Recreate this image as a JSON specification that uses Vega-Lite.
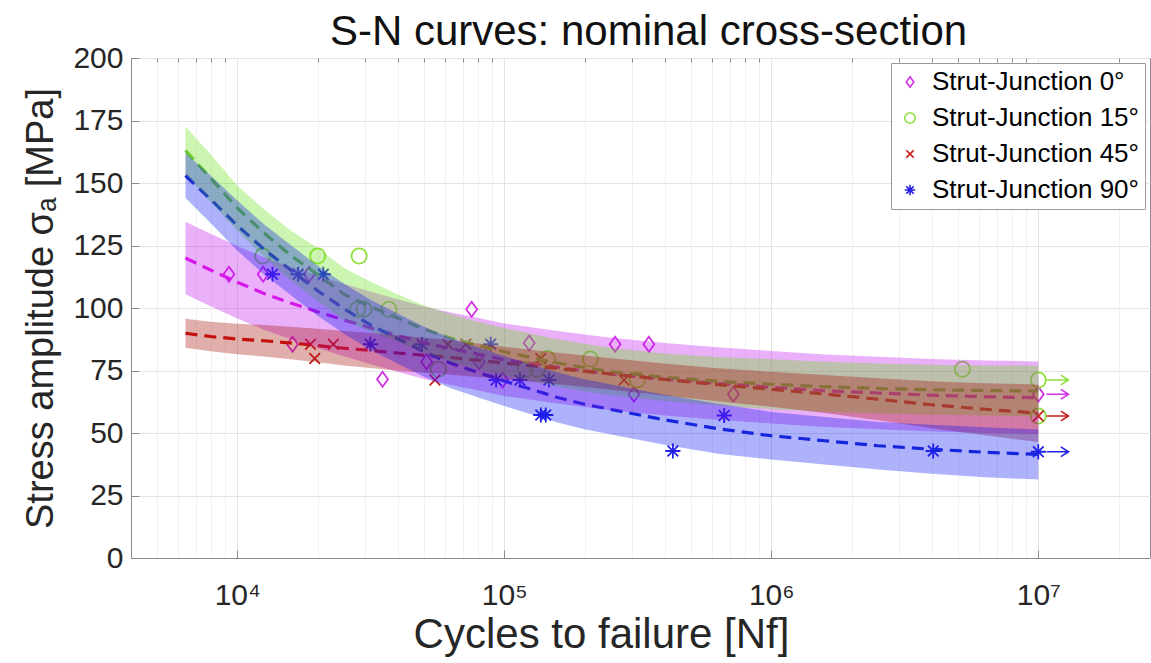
{
  "$schema": "https://vega.github.io/schema/vega-lite/v6.json",
  "width": 1019,
  "height": 500,
  "autosize": {"type": "none"},
  "padding": {"left": 131, "top": 58, "right": 1, "bottom": 105},
  "background": "white",
  "title": {"text": "S-N curves: nominal cross-section", "fontSize": 42, "fontWeight": "normal", "font": "Liberation Sans", "color": "#111111", "anchor": "middle", "frame": "group", "dx": 8, "dy": 23, "offset": 12},
  "config": {
    "view": {"stroke": "#8c8c8c", "strokeWidth": 1},
    "font": "Liberation Sans",
    "axis": {"labelFont": "Liberation Sans", "titleFont": "Liberation Sans", "labelColor": "#262626", "titleColor": "#262626", "titleFontWeight": "normal", "domainColor": "#8c8c8c", "tickColor": "#8c8c8c"}
  },
  "datasets": {
    "points": [
      {"series": "Strut-Junction 0°", "N": 9310, "S": 113.5},
      {"series": "Strut-Junction 0°", "N": 12500, "S": 113.5},
      {"series": "Strut-Junction 0°", "N": 16100, "S": 85.5},
      {"series": "Strut-Junction 0°", "N": 18600, "S": 113.5},
      {"series": "Strut-Junction 0°", "N": 35000, "S": 71.5},
      {"series": "Strut-Junction 0°", "N": 51200, "S": 78.5},
      {"series": "Strut-Junction 0°", "N": 75500, "S": 99.5},
      {"series": "Strut-Junction 0°", "N": 80500, "S": 78.5},
      {"series": "Strut-Junction 0°", "N": 98500, "S": 71.2},
      {"series": "Strut-Junction 0°", "N": 124000, "S": 86},
      {"series": "Strut-Junction 0°", "N": 260000, "S": 85.5},
      {"series": "Strut-Junction 0°", "N": 306000, "S": 65.5},
      {"series": "Strut-Junction 0°", "N": 348000, "S": 85.5},
      {"series": "Strut-Junction 0°", "N": 721000, "S": 65.5},
      {"series": "Strut-Junction 0°", "N": 10000000, "S": 65.5},
      {"series": "Strut-Junction 15°", "N": 12450, "S": 120.8},
      {"series": "Strut-Junction 15°", "N": 20000, "S": 120.8},
      {"series": "Strut-Junction 15°", "N": 28600, "S": 120.8},
      {"series": "Strut-Junction 15°", "N": 28200, "S": 99.5},
      {"series": "Strut-Junction 15°", "N": 29800, "S": 99.5},
      {"series": "Strut-Junction 15°", "N": 37000, "S": 99.5},
      {"series": "Strut-Junction 15°", "N": 56700, "S": 75.5},
      {"series": "Strut-Junction 15°", "N": 120000, "S": 75.5},
      {"series": "Strut-Junction 15°", "N": 133000, "S": 75.5},
      {"series": "Strut-Junction 15°", "N": 145000, "S": 79.8},
      {"series": "Strut-Junction 15°", "N": 210000, "S": 79.6},
      {"series": "Strut-Junction 15°", "N": 315000, "S": 71.2},
      {"series": "Strut-Junction 15°", "N": 5200000, "S": 75.5},
      {"series": "Strut-Junction 15°", "N": 10000000, "S": 71.2},
      {"series": "Strut-Junction 15°", "N": 10000000, "S": 56.8},
      {"series": "Strut-Junction 45°", "N": 18800, "S": 85.5},
      {"series": "Strut-Junction 45°", "N": 19500, "S": 79.8},
      {"series": "Strut-Junction 45°", "N": 22900, "S": 85.5},
      {"series": "Strut-Junction 45°", "N": 55000, "S": 71.2},
      {"series": "Strut-Junction 45°", "N": 61500, "S": 85.5},
      {"series": "Strut-Junction 45°", "N": 71800, "S": 85.5},
      {"series": "Strut-Junction 45°", "N": 137000, "S": 79.8},
      {"series": "Strut-Junction 45°", "N": 281000, "S": 71.2},
      {"series": "Strut-Junction 45°", "N": 10000000, "S": 56.8},
      {"series": "Strut-Junction 90°", "N": 13550, "S": 113.5},
      {"series": "Strut-Junction 90°", "N": 16900, "S": 113.5},
      {"series": "Strut-Junction 90°", "N": 21000, "S": 113.5},
      {"series": "Strut-Junction 90°", "N": 31500, "S": 85.5},
      {"series": "Strut-Junction 90°", "N": 49200, "S": 85.5},
      {"series": "Strut-Junction 90°", "N": 88900, "S": 85.5},
      {"series": "Strut-Junction 90°", "N": 93200, "S": 71.2},
      {"series": "Strut-Junction 90°", "N": 114500, "S": 71.2},
      {"series": "Strut-Junction 90°", "N": 137000, "S": 57.2},
      {"series": "Strut-Junction 90°", "N": 143000, "S": 57.2},
      {"series": "Strut-Junction 90°", "N": 147000, "S": 71.2},
      {"series": "Strut-Junction 90°", "N": 428000, "S": 42.8},
      {"series": "Strut-Junction 90°", "N": 666000, "S": 57},
      {"series": "Strut-Junction 90°", "N": 4040000, "S": 42.8},
      {"series": "Strut-Junction 90°", "N": 10000000, "S": 42.5}
    ],
    "runouts": [
      {"series": "Strut-Junction 15°", "N": 11800000, "S": 71.2},
      {"series": "Strut-Junction 0°", "N": 11800000, "S": 65.5},
      {"series": "Strut-Junction 45°", "N": 11800000, "S": 56.8},
      {"series": "Strut-Junction 90°", "N": 11800000, "S": 42.5}
    ],
    "curves": [
      {"series": "Strut-Junction 0°", "N": 6400, "S": 120, "lo": 105.5, "hi": 134.5},
      {"series": "Strut-Junction 0°", "N": 7943, "S": 115.2, "lo": 100.7, "hi": 129.7},
      {"series": "Strut-Junction 0°", "N": 10000, "S": 110.3, "lo": 95.8, "hi": 124.8},
      {"series": "Strut-Junction 0°", "N": 12589, "S": 105.8, "lo": 91.3, "hi": 120.3},
      {"series": "Strut-Junction 0°", "N": 15849, "S": 102, "lo": 87.5, "hi": 116.5},
      {"series": "Strut-Junction 0°", "N": 19953, "S": 98.5, "lo": 84, "hi": 113},
      {"series": "Strut-Junction 0°", "N": 25119, "S": 95.2, "lo": 80.7, "hi": 109.7},
      {"series": "Strut-Junction 0°", "N": 31623, "S": 92, "lo": 77.5, "hi": 106.5},
      {"series": "Strut-Junction 0°", "N": 39811, "S": 89, "lo": 74.5, "hi": 103.5},
      {"series": "Strut-Junction 0°", "N": 50119, "S": 86.1, "lo": 71.6, "hi": 100.6},
      {"series": "Strut-Junction 0°", "N": 63096, "S": 83.7, "lo": 69.2, "hi": 98.2},
      {"series": "Strut-Junction 0°", "N": 79433, "S": 81.6, "lo": 67.1, "hi": 96.1},
      {"series": "Strut-Junction 0°", "N": 100000, "S": 79.3, "lo": 64.8, "hi": 93.8},
      {"series": "Strut-Junction 0°", "N": 125893, "S": 77.8, "lo": 63.3, "hi": 92.3},
      {"series": "Strut-Junction 0°", "N": 158489, "S": 76.3, "lo": 61.8, "hi": 90.8},
      {"series": "Strut-Junction 0°", "N": 199526, "S": 74.9, "lo": 60.4, "hi": 89.4},
      {"series": "Strut-Junction 0°", "N": 251189, "S": 73.6, "lo": 59.1, "hi": 88.1},
      {"series": "Strut-Junction 0°", "N": 398107, "S": 71.5, "lo": 57, "hi": 86},
      {"series": "Strut-Junction 0°", "N": 630957, "S": 69.8, "lo": 55.3, "hi": 84.3},
      {"series": "Strut-Junction 0°", "N": 1000000, "S": 68.3, "lo": 53.8, "hi": 82.8},
      {"series": "Strut-Junction 0°", "N": 1584893, "S": 66.9, "lo": 52.4, "hi": 81.4},
      {"series": "Strut-Junction 0°", "N": 2511886, "S": 66, "lo": 51.5, "hi": 80.5},
      {"series": "Strut-Junction 0°", "N": 3981072, "S": 65.1, "lo": 50.6, "hi": 79.6},
      {"series": "Strut-Junction 0°", "N": 6309573, "S": 64.5, "lo": 50, "hi": 79},
      {"series": "Strut-Junction 0°", "N": 10000000, "S": 64.1, "lo": 49.6, "hi": 78.6},
      {"series": "Strut-Junction 15°", "N": 6400, "S": 163, "lo": 153.4, "hi": 172.6},
      {"series": "Strut-Junction 15°", "N": 7943, "S": 152, "lo": 142.5, "hi": 161.5},
      {"series": "Strut-Junction 15°", "N": 10000, "S": 140, "lo": 131, "hi": 149},
      {"series": "Strut-Junction 15°", "N": 12589, "S": 130, "lo": 120.5, "hi": 139.5},
      {"series": "Strut-Junction 15°", "N": 15849, "S": 121, "lo": 111, "hi": 131},
      {"series": "Strut-Junction 15°", "N": 19953, "S": 113.5, "lo": 103, "hi": 124},
      {"series": "Strut-Junction 15°", "N": 25119, "S": 105.5, "lo": 95, "hi": 116},
      {"series": "Strut-Junction 15°", "N": 31623, "S": 100.5, "lo": 90.5, "hi": 110.5},
      {"series": "Strut-Junction 15°", "N": 39811, "S": 96, "lo": 86.5, "hi": 105.5},
      {"series": "Strut-Junction 15°", "N": 50119, "S": 91.5, "lo": 82, "hi": 101},
      {"series": "Strut-Junction 15°", "N": 63096, "S": 88, "lo": 78.5, "hi": 97.5},
      {"series": "Strut-Junction 15°", "N": 79433, "S": 85, "lo": 75.5, "hi": 94.5},
      {"series": "Strut-Junction 15°", "N": 100000, "S": 82.5, "lo": 73, "hi": 92},
      {"series": "Strut-Junction 15°", "N": 125893, "S": 80.2, "lo": 70.7, "hi": 89.7},
      {"series": "Strut-Junction 15°", "N": 158489, "S": 78, "lo": 68.5, "hi": 87.5},
      {"series": "Strut-Junction 15°", "N": 199526, "S": 76.2, "lo": 66.7, "hi": 85.7},
      {"series": "Strut-Junction 15°", "N": 251189, "S": 74.5, "lo": 65, "hi": 84},
      {"series": "Strut-Junction 15°", "N": 398107, "S": 72.3, "lo": 62.8, "hi": 81.8},
      {"series": "Strut-Junction 15°", "N": 630957, "S": 70.7, "lo": 61, "hi": 80.4},
      {"series": "Strut-Junction 15°", "N": 1000000, "S": 69.5, "lo": 59.5, "hi": 79.5},
      {"series": "Strut-Junction 15°", "N": 1584893, "S": 68.5, "lo": 58.5, "hi": 78.5},
      {"series": "Strut-Junction 15°", "N": 2511886, "S": 67.8, "lo": 57.8, "hi": 77.8},
      {"series": "Strut-Junction 15°", "N": 3981072, "S": 67.3, "lo": 57.3, "hi": 77.3},
      {"series": "Strut-Junction 15°", "N": 6309573, "S": 67, "lo": 57, "hi": 77},
      {"series": "Strut-Junction 15°", "N": 10000000, "S": 66.8, "lo": 56.6, "hi": 77},
      {"series": "Strut-Junction 45°", "N": 6400, "S": 89.9, "lo": 84.1, "hi": 95.7},
      {"series": "Strut-Junction 45°", "N": 7943, "S": 88.6, "lo": 82.7, "hi": 94.5},
      {"series": "Strut-Junction 45°", "N": 10000, "S": 87.6, "lo": 81.5, "hi": 93.7},
      {"series": "Strut-Junction 45°", "N": 12589, "S": 86.9, "lo": 80.6, "hi": 93.2},
      {"series": "Strut-Junction 45°", "N": 15849, "S": 86, "lo": 79.5, "hi": 92.5},
      {"series": "Strut-Junction 45°", "N": 19953, "S": 85, "lo": 78.3, "hi": 91.7},
      {"series": "Strut-Junction 45°", "N": 25119, "S": 83.9, "lo": 77, "hi": 90.8},
      {"series": "Strut-Junction 45°", "N": 31623, "S": 83, "lo": 76, "hi": 90},
      {"series": "Strut-Junction 45°", "N": 39811, "S": 82, "lo": 74.9, "hi": 89.1},
      {"series": "Strut-Junction 45°", "N": 50119, "S": 81.1, "lo": 74.1, "hi": 88.1},
      {"series": "Strut-Junction 45°", "N": 63096, "S": 80.2, "lo": 73.3, "hi": 87.1},
      {"series": "Strut-Junction 45°", "N": 79433, "S": 79.1, "lo": 72.4, "hi": 85.8},
      {"series": "Strut-Junction 45°", "N": 100000, "S": 78, "lo": 71.5, "hi": 84.5},
      {"series": "Strut-Junction 45°", "N": 125893, "S": 76.9, "lo": 70.5, "hi": 83.3},
      {"series": "Strut-Junction 45°", "N": 158489, "S": 75.8, "lo": 69.5, "hi": 82.1},
      {"series": "Strut-Junction 45°", "N": 199526, "S": 74.7, "lo": 68.4, "hi": 81},
      {"series": "Strut-Junction 45°", "N": 251189, "S": 73.6, "lo": 67.3, "hi": 79.9},
      {"series": "Strut-Junction 45°", "N": 398107, "S": 71.4, "lo": 65, "hi": 77.8},
      {"series": "Strut-Junction 45°", "N": 630957, "S": 69.3, "lo": 62.7, "hi": 75.9},
      {"series": "Strut-Junction 45°", "N": 1000000, "S": 67.5, "lo": 60.5, "hi": 74.5},
      {"series": "Strut-Junction 45°", "N": 1584893, "S": 65.6, "lo": 58, "hi": 73.2},
      {"series": "Strut-Junction 45°", "N": 2511886, "S": 63.5, "lo": 55.1, "hi": 71.9},
      {"series": "Strut-Junction 45°", "N": 3981072, "S": 61.3, "lo": 51.9, "hi": 70.7},
      {"series": "Strut-Junction 45°", "N": 6309573, "S": 59.5, "lo": 49.1, "hi": 69.9},
      {"series": "Strut-Junction 45°", "N": 10000000, "S": 57.9, "lo": 46.4, "hi": 69.4},
      {"series": "Strut-Junction 90°", "N": 6400, "S": 153, "lo": 144, "hi": 162},
      {"series": "Strut-Junction 90°", "N": 7943, "S": 143.5, "lo": 134, "hi": 153},
      {"series": "Strut-Junction 90°", "N": 10000, "S": 133, "lo": 123, "hi": 143},
      {"series": "Strut-Junction 90°", "N": 12589, "S": 123.5, "lo": 113.5, "hi": 133.5},
      {"series": "Strut-Junction 90°", "N": 15849, "S": 115.2, "lo": 105.2, "hi": 125.2},
      {"series": "Strut-Junction 90°", "N": 19953, "S": 107, "lo": 97, "hi": 117},
      {"series": "Strut-Junction 90°", "N": 25119, "S": 99.7, "lo": 89.7, "hi": 109.7},
      {"series": "Strut-Junction 90°", "N": 31623, "S": 93.2, "lo": 83.2, "hi": 103.2},
      {"series": "Strut-Junction 90°", "N": 39811, "S": 87.8, "lo": 77.8, "hi": 97.8},
      {"series": "Strut-Junction 90°", "N": 50119, "S": 82.5, "lo": 72.5, "hi": 92.5},
      {"series": "Strut-Junction 90°", "N": 63096, "S": 77.9, "lo": 67.9, "hi": 87.9},
      {"series": "Strut-Junction 90°", "N": 79433, "S": 74.3, "lo": 64.3, "hi": 84.3},
      {"series": "Strut-Junction 90°", "N": 100000, "S": 70.8, "lo": 60.8, "hi": 80.8},
      {"series": "Strut-Junction 90°", "N": 125893, "S": 67.5, "lo": 57.5, "hi": 77.5},
      {"series": "Strut-Junction 90°", "N": 158489, "S": 64.2, "lo": 54.2, "hi": 74.2},
      {"series": "Strut-Junction 90°", "N": 199526, "S": 61.5, "lo": 51.5, "hi": 71.5},
      {"series": "Strut-Junction 90°", "N": 251189, "S": 59.4, "lo": 49.4, "hi": 69.4},
      {"series": "Strut-Junction 90°", "N": 398107, "S": 55.3, "lo": 45.3, "hi": 65.3},
      {"series": "Strut-Junction 90°", "N": 630957, "S": 51.7, "lo": 41.7, "hi": 61.7},
      {"series": "Strut-Junction 90°", "N": 1000000, "S": 48.9, "lo": 39.4, "hi": 58.4},
      {"series": "Strut-Junction 90°", "N": 1584893, "S": 46.9, "lo": 37.4, "hi": 56.4},
      {"series": "Strut-Junction 90°", "N": 2511886, "S": 44.9, "lo": 35.4, "hi": 54.4},
      {"series": "Strut-Junction 90°", "N": 3981072, "S": 43.5, "lo": 33.7, "hi": 53.3},
      {"series": "Strut-Junction 90°", "N": 6309573, "S": 42.3, "lo": 32.3, "hi": 52.3},
      {"series": "Strut-Junction 90°", "N": 10000000, "S": 41.4, "lo": 31.4, "hi": 51.4}
    ]
  },
  "resolve": {"axis": {"x": "independent"}},
  "layer": [
    {
      "data": {"name": "points"},
      "mark": {"type": "point", "filled": false, "strokeWidth": 1.8, "size": 230, "opacity": 1},
      "encoding": {
        "x": {"field": "N", "type": "quantitative", "scale": {"type": "log", "domain": [4000, 26200000], "nice": false},
          "axis": {"orient": "bottom", "values": [10000, 100000, 1000000, 10000000], "labelExpr": "datum.value == 10000 ? '10⁴' : datum.value == 100000 ? '10⁵' : datum.value == 1000000 ? '10⁶' : '10⁷'", "labelFontSize": 30, "labelPadding": 30, "tickSize": -8, "grid": true, "gridColor": "#e3e3e3", "title": "Cycles to failure [Nf]", "titleFontSize": 42, "titleX": 470, "titleY": 89, "titleAlign": "center", "titleBaseline": "alphabetic", "domain": true}},
        "y": {"field": "S", "type": "quantitative", "scale": {"domain": [0, 200], "nice": false},
          "axis": {"values": [0, 25, 50, 75, 100, 125, 150, 175, 200], "labelFontSize": 30, "labelPadding": 16, "tickSize": -8, "grid": true, "gridColor": "#e3e3e3", "title": "Stress amplitude σₐ [MPa]", "titleFontSize": 38, "titlePadding": 12}},
        "color": {"field": "series", "type": "nominal",
          "scale": {"domain": ["Strut-Junction 0°", "Strut-Junction 15°", "Strut-Junction 45°", "Strut-Junction 90°"], "range": ["#D22FE6", "#8EE03C", "#C81E1E", "#2222E8"]},
          "legend": {"title": null, "orient": "none", "legendX": 760, "legendY": 5, "padding": 6, "fillColor": "white", "strokeColor": "#9a9a9a", "labelFontSize": 26, "labelFont": "Liberation Sans", "labelColor": "#000000", "labelOffset": 9, "rowPadding": 10, "symbolSize": 110, "symbolStrokeWidth": 1.6, "labelLimit": 400}},
        "shape": {"field": "series", "type": "nominal",
          "scale": {"domain": ["Strut-Junction 0°", "Strut-Junction 15°", "Strut-Junction 45°", "Strut-Junction 90°"], "range": ["M0,-1L0.72,0L0,1L-0.72,0Z", "circle", "M-0.7,-0.7L0.7,0.7M-0.7,0.7L0.7,-0.7", "M-1,0L1,0M0,-1L0,1M-0.7,-0.7L0.7,0.7M-0.7,0.7L0.7,-0.7"]},
          "legend": {"title": null, "orient": "none", "legendX": 760, "legendY": 5, "padding": 6, "fillColor": "white", "strokeColor": "#9a9a9a", "labelFontSize": 26, "labelFont": "Liberation Sans", "labelColor": "#000000", "labelOffset": 9, "rowPadding": 10, "symbolSize": 110, "symbolStrokeWidth": 1.6, "labelLimit": 400}}
      }
    },
    {
      "data": {"name": "curves"},
      "mark": {"type": "line", "strokeWidth": 3.2, "strokeDash": [12, 7]},
      "encoding": {
        "x": {"field": "N", "type": "quantitative",
          "axis": {"orient": "top", "values": [5000, 6000, 7000, 8000, 9000, 20000, 30000, 40000, 50000, 60000, 70000, 80000, 90000, 200000, 300000, 400000, 500000, 600000, 700000, 800000, 900000, 2000000, 3000000, 4000000, 5000000, 6000000, 7000000, 8000000, 9000000, 20000000], "labels": false, "tickSize": -4, "grid": true, "gridColor": "#f1f1f1", "domain": false, "title": null}},
        "y": {"field": "S", "type": "quantitative"},
        "stroke": {"field": "series", "type": "nominal",
          "scale": {"domain": ["Strut-Junction 0°", "Strut-Junction 15°", "Strut-Junction 45°", "Strut-Junction 90°"], "range": ["#E21FE6", "#6FC23E", "#D41414", "#1F2FD6"]}, "legend": null}
      }
    },
    {
      "data": {"name": "curves"},
      "transform": [{"filter": "datum.series == 'Strut-Junction 0°'"}],
      "mark": {"type": "area", "opacity": 0.33, "color": "#BE10F0"},
      "encoding": {
        "x": {"field": "N", "type": "quantitative", "axis": null},
        "y": {"field": "lo", "type": "quantitative"},
        "y2": {"field": "hi"}
      }
    },
    {
      "data": {"name": "curves"},
      "transform": [{"filter": "datum.series == 'Strut-Junction 15°'"}],
      "mark": {"type": "area", "opacity": 0.33, "color": "#62E012"},
      "encoding": {
        "x": {"field": "N", "type": "quantitative", "axis": null},
        "y": {"field": "lo", "type": "quantitative"},
        "y2": {"field": "hi"}
      }
    },
    {
      "data": {"name": "curves"},
      "transform": [{"filter": "datum.series == 'Strut-Junction 45°'"}],
      "mark": {"type": "area", "opacity": 0.33, "color": "#A00800"},
      "encoding": {
        "x": {"field": "N", "type": "quantitative", "axis": null},
        "y": {"field": "lo", "type": "quantitative"},
        "y2": {"field": "hi"}
      }
    },
    {
      "data": {"name": "curves"},
      "transform": [{"filter": "datum.series == 'Strut-Junction 90°'"}],
      "mark": {"type": "area", "opacity": 0.33, "color": "#0A14F0"},
      "encoding": {
        "x": {"field": "N", "type": "quantitative", "axis": null},
        "y": {"field": "lo", "type": "quantitative"},
        "y2": {"field": "hi"}
      }
    },
    {
      "data": {"name": "runouts"},
      "mark": {"type": "point", "filled": false, "strokeWidth": 1.6, "size": 484, "shape": "M-1,0L1,0M0.3,-0.45L1,0L0.3,0.45", "opacity": 1},
      "encoding": {
        "x": {"field": "N", "type": "quantitative", "axis": null},
        "y": {"field": "S", "type": "quantitative"},
        "color": {"field": "series", "type": "nominal"}
      }
    }
  ]
}
